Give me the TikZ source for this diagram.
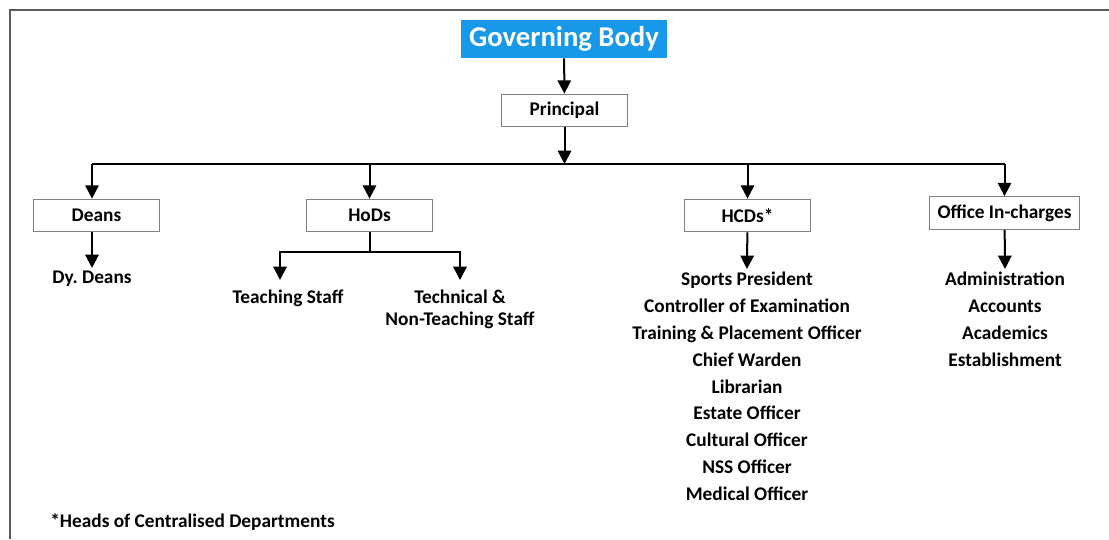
\documentclass[tikz,border=0pt]{standalone}
\usepackage{fontspec}
\setmainfont{Carlito}
\usepackage{tikz}
\usepackage{color}
\usetikzlibrary{arrows.meta}
\usetikzlibrary{calc}

\definecolor{gbblue}{RGB}{24,152,232}
\definecolor{framegray}{RGB}{90,90,90}
\definecolor{boxgray}{RGB}{128,128,128}

\tikzset{
  post/.style={draw=boxgray, line width=0.8pt, fill=white, minimum height=24.5pt, inner sep=2pt, font=\bfseries\fontsize{14.5}{17}\selectfont},
  staff/.style={inner sep=0pt, align=center, font=\bfseries\fontsize{14.5}{20.1}\selectfont},
  arr/.style={line width=1.5pt, -{Triangle[width=10pt,length=10pt]}},
  link/.style={line width=1.5pt}
}

\begin{document}
\begin{tikzpicture}[x=0.75pt,y=0.75pt,yscale=-1,xscale=1]
\useasboundingbox (0,0) rectangle (1109,539);
%Frame
\draw [framegray, line width=1.5pt] (10,539) -- (10,10) -- (1109,10) ;
% Top nodes
\node [fill=gbblue, text=white, minimum width=154.5pt, minimum height=28.5pt, inner sep=2pt, font=\bfseries\fontsize{21.5}{24}\selectfont] (gbody) at (564,39) {Governing Body};
\node [post, minimum width=94pt] (principal) at (564.5,110.5) {Principal};
\coordinate (bus) at (564.5,164);
% Level of posts
\node [post, minimum width=94pt] (deans) at (96.5,215.5) {Deans};
\node [post, minimum width=94pt] (hods) at (369.5,215.5) {HoDs};
\node [post, minimum width=94pt] (hcds) at (747.5,215.5) {HCDs*};
\node [post, minimum width=113pt] (office) at (1004.5,213) {Office In-charges};
\coordinate (dcol) at (92,0);
% Text Node
\node [staff, anchor=north] (dydeans) at (92,271) {Dy.\ Deans};
\node [staff, anchor=north] (teaching) at (288,290) {Teaching Staff};
\node [staff, anchor=north, font=\bfseries\fontsize{14.5}{16.5}\selectfont] (technical) at (460,290) {Technical \&\\Non-Teaching Staff};
\node [staff, anchor=north] (hcdlist) at (747,272) {Sports President\\Controller of Examination\\Training \& Placement Officer\\Chief Warden\\Librarian\\Estate Officer\\Cultural Officer\\NSS Officer\\Medical Officer};
\node [staff, anchor=north] (officelist) at (1005,272) {Administration\\Accounts\\Academics\\Establishment};
\node [staff, anchor=west] (note) at (50,522) {*Heads of Centralised Departments};
% Connectors
\draw [arr] (gbody) -- (principal) ;
\draw [arr] (principal) -- (bus) ;
\draw [link] (bus -| dcol) -- (bus -| office) ;
\draw [arr] (bus -| dcol) -- (deans.north -| dcol) ;
\draw [arr] (bus -| hods) -- (hods) ;
\draw [arr] (bus -| hcds) -- (hcds) ;
\draw [arr] (bus -| office) -- (office) ;
\draw [arr] (deans.south -| dcol) -- ($(dydeans.north)+(0,-3)$) ;
\coordinate (split) at ($(hods.south)+(0,20)$);
\draw [link] (hods) -- (split) ;
\draw [arr] (split) -| ($(teaching.north -| 280,0)+(0,-10)$) ;
\draw [arr] (split) -| ($(technical.north)+(0,-10)$) ;
\draw [arr] (hcds) -- ($(hcdlist.north)+(0,-3)$) ;
\draw [arr] (office) -- ($(officelist.north)+(0,-3)$) ;
\end{tikzpicture}
\end{document}
